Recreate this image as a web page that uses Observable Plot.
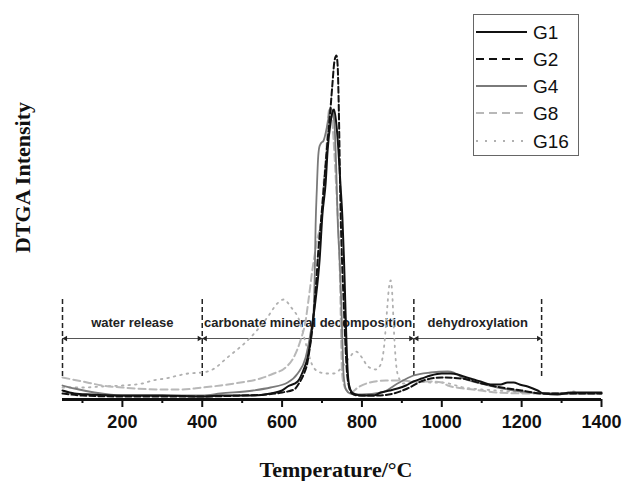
<!DOCTYPE html>
<html><head><meta charset="utf-8">
<script src="https://cdn.jsdelivr.net/npm/d3@7"></script>
<script src="https://cdn.jsdelivr.net/npm/@observablehq/plot@0.6"></script>
<style>
html,body{margin:0;padding:0;background:#fff;}
#wrap{position:relative;width:624px;height:481px;overflow:hidden;}
#legend{position:absolute;left:473px;top:14px;width:106px;height:142px;border:1.5px solid #666;box-sizing:border-box;background:#fff;}
</style></head><body><div id="wrap"></div>
<script>
// ---------- data (temperature in °C, DTGA intensity in arbitrary units) ----------
const g1T = [50,80,120,200,300,400,450,528,571,600,614,639,654,664,671,676,684,694,701,709,714,721,726,730,736,741,746,751,755,758,761,764,768,775,785,800,830,847,870,889,910,929,950,972,1000,1022,1040,1055,1080,1097,1122,1147,1165,1180,1195,1215,1240,1255,1290,1323,1365,1400];
const g1V = [9,6,5,4,4,3,4,4,6,9,13,18,30,42,58,75,100,140,185,216,249,276,287,290,275,250,216,182,140,100,60,30,14,7,5,4,4,7,9,11,14,18,21,24,26,26,25,23,20,18,15,15,17,17,15,13,9,6,5,7,7,7];

const g2T = [50,100,200,300,400,500,560,600,630,645,655,663,668,673,678,682,686,690,696,702,712,720,726,731,736,739,741,743,745,747,750,754,758,762,767,775,790,840,880,914,954,1000,1050,1100,1150,1200,1250,1300,1400];
const g2V = [6,4,3,3,3,4,5,7,10,18,26,36,48,62,80,100,120,145,172,200,250,285,315,338,344,335,310,270,220,180,140,100,60,30,14,6,4,4,6,11,19,22,21,16,12,9,6,6,6];

const g4T = [50,80,130,200,300,400,446,528,571,614,639,659,671,679,682,684,687,690,693,697,704,714,721,726,731,734,736,739,744,748,751,754,760,770,780,800,850,889,929,972,1015,1030,1055,1097,1140,1180,1222,1265,1400];
const g4V = [14,11,7,4,4,4,6,9,12,17,26,42,66,89,130,175,210,240,252,256,259,276,291,289,276,250,226,182,140,100,60,25,10,6,5,5,7,16,24,27,28,27,21,16,12,9,7,6,6];

const g8T = [50,100,150,200,300,350,400,446,496,546,579,609,629,646,659,666,676,688,698,704,711,714,719,724,729,736,741,745,747,749,752,760,772,790,820,860,900,930,970,1000,1015,1055,1097,1140,1222,1400];
const g8V = [22,18,14,12,10,10,12,14,17,21,26,32,42,59,79,99,130,160,180,216,249,276,291,285,259,209,170,120,80,40,20,10,7,12,17,19,19,18,18,17,14,11,9,7,6,6];

const g16T = [50,100,150,200,250,275,308,340,365,400,426,463,521,563,588,604,621,646,660,675,690,710,730,745,765,785,800,815,835,848,856,863,868,872,876,880,885,892,904,930,972,1000,1055,1100,1140,1200,1300,1330,1350,1400];
const g16V = [12,12,13,14,16,19,21,24,26,27,30,42,62,82,96,100,93,76,55,35,28,26,26,30,40,48,42,33,30,36,55,90,113,119,105,70,38,22,16,18,17,17,12,10,9,7,6,8,6,6];

const seriesNames = ["G1","G2","G4","G8","G16"];
const majorTicks = [200,400,600,800,1000,1200,1400];
const minorTicks = [100,300,500,700,900,1100,1300];
const regionBounds = [50,400,930,1250];
const regionNames = ["water release","carbonate mineral decomposition","dehydroxylation"];
const xTitle = "Temperature/°C";
const yTitle = "DTGA Intensity";

// annotation levels (data units)
const bracketTop = 101, bracketBottom = 23, arrowLevel = 61, labelLevel = 77;

// ---------- build ----------
const toRows = (T,V) => T.map((t,i)=>({t, v:V[i]}));
const styles = {
  G1:{stroke:"#111", strokeWidth:2, dash:null, rows:toRows(g1T,g1V)},
  G2:{stroke:"#111", strokeWidth:2, dash:"6,3", rows:toRows(g2T,g2V)},
  G4:{stroke:"#7a7a7a", strokeWidth:1.8, dash:null, rows:toRows(g4T,g4V)},
  G8:{stroke:"#b8b8b8", strokeWidth:2, dash:"7,4", rows:toRows(g8T,g8V)},
  G16:{stroke:"#b0b0b0", strokeWidth:1.8, dash:"1.6,5", rows:toRows(g16T,g16V)}
};
const segments = regionNames.map((name,i)=>({a:regionBounds[i], b:regionBounds[i+1], name, mid:(regionBounds[i]+regionBounds[i+1])/2}));

const drawOrder = ["G16","G8","G4","G2","G1"];

const plot = Plot.plot({
  width: 624, height: 481,
  marginLeft: 62, marginRight: 23, marginTop: 49, marginBottom: 82,
  x: {domain:[50,1400]},
  y: {domain:[0,350], axis:null},
  style: {fontFamily:"'Liberation Sans',Arial,sans-serif", fontSize:"18px", fontWeight:"bold", color:"#111", background:"#fff"},
  marks: [
    Plot.ruleX(regionBounds, {x:d=>d, y1:bracketBottom, y2:bracketTop, stroke:"#222", strokeWidth:1.5, strokeDasharray:"5,3"}),
    Plot.ruleY(segments, {x1:"a", x2:"b", y:arrowLevel, stroke:"#555", strokeWidth:1}),
    Plot.dot(segments, {x:"a", y:arrowLevel, symbol:"triangle2", rotate:-90, r:2.6, fill:"#222", stroke:null, dx:3}),
    Plot.dot(segments, {x:"b", y:arrowLevel, symbol:"triangle2", rotate:90, r:2.6, fill:"#222", stroke:null, dx:-3}),
    Plot.text(segments, {x:"mid", y:labelLevel, text:"name", fontFamily:"'Liberation Sans',Arial,sans-serif", fontSize:13, fontWeight:"bold", fill:"#222"}),
    ...drawOrder.map(k => Plot.line(styles[k].rows, {x:"t", y:"v", curve:"monotone-x", stroke:styles[k].stroke, strokeWidth:styles[k].strokeWidth, strokeDasharray:styles[k].dash})),
    Plot.ruleY([0], {stroke:"#111", strokeWidth:3}),
    Plot.axisX({ticks:majorTicks, tickSize:8, tickPadding:8, tickFormat:d=>String(d), strokeWidth:2, fontSize:18, fontWeight:"bold", label:null}),
    Plot.axisX({ticks:minorTicks, tickSize:4, tickFormat:null, text:null, strokeWidth:2, label:null}),
    Plot.text([xTitle], {frameAnchor:"bottom", lineAnchor:"middle", textAnchor:"middle", dy:70, dx:4, fontFamily:"'Liberation Serif','Times New Roman',serif", fontSize:22, fontWeight:"bold", fill:"#111"}),
    Plot.text([yTitle], {frameAnchor:"left", lineAnchor:"middle", textAnchor:"middle", rotate:-90, dx:-40, dy:-47, fontFamily:"'Liberation Serif','Times New Roman',serif", fontSize:22, fontWeight:"bold", fill:"#111"})
  ]
});
const wrap = document.getElementById("wrap");
wrap.appendChild(plot);

// ---------- legend ----------
const legend = document.createElement("div");
legend.id = "legend";
wrap.appendChild(legend);
const lsvg = d3.select(legend).append("svg").attr("width",104).attr("height",140).style("display","block");
const legendY = [17,44,71,98,126];
seriesNames.forEach((k,i)=>{
  const s = styles[k];
  lsvg.append("line").attr("x1",2).attr("x2",53).attr("y1",legendY[i]).attr("y2",legendY[i])
    .attr("stroke",s.stroke).attr("stroke-width",s.strokeWidth)
    .attr("stroke-dasharray", k==="G2"||k==="G8" ? "8,5" : (k==="G16" ? "2,7" : null));
  lsvg.append("text").attr("x",59).attr("y",legendY[i]).attr("dy","0.35em")
    .attr("font-family","'Liberation Sans',Arial,sans-serif").attr("font-size",19).attr("fill","#111").text(k);
});
</script></body></html>
